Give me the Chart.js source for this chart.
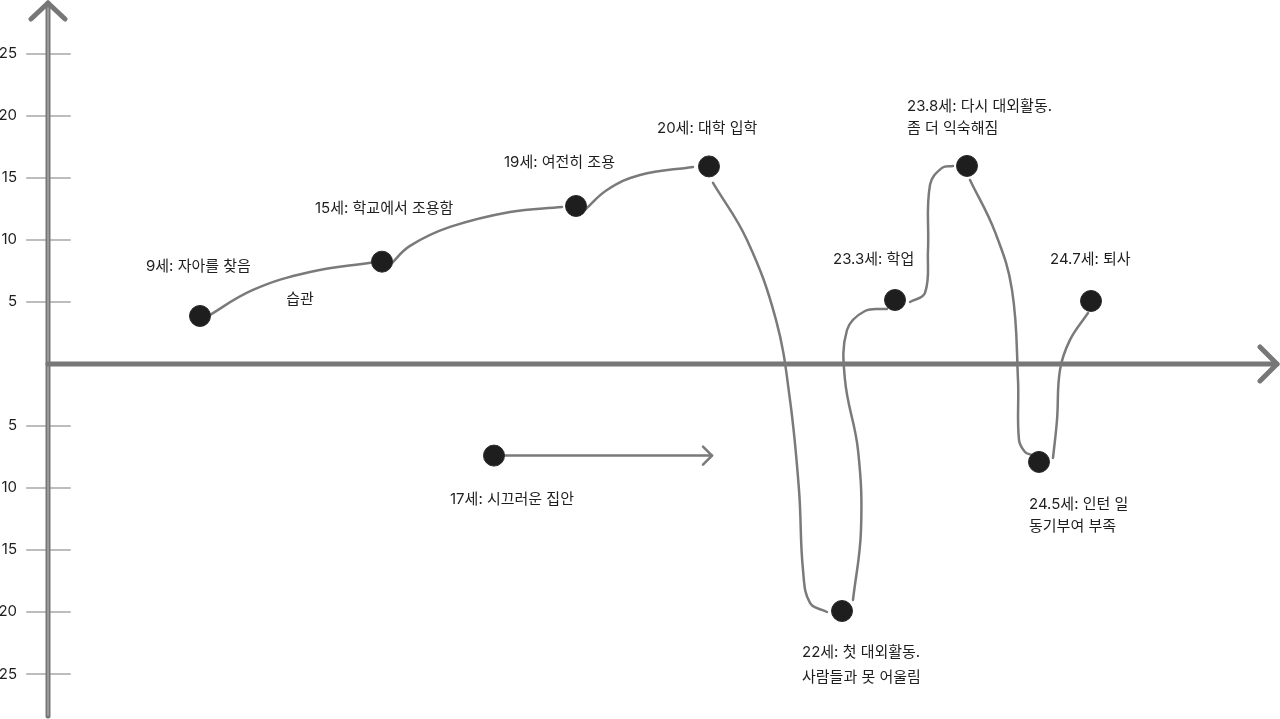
<!DOCTYPE html>
<html>
<head>
<meta charset="utf-8">
<script src="https://cdn.jsdelivr.net/npm/chart.js@4/dist/chart.umd.min.js"></script>
<style>
html,body{margin:0;padding:0;background:#fff;overflow:hidden;}
canvas{display:block;}
</style>
</head>
<body>
<canvas id="c" width="1280" height="719"></canvas>
<script>
// ---- data ----
const ages = ['9세', '15세', '19세', '20세', '22세', '23.3세', '23.8세', '24.5세', '24.7세'];
const captions = [
  ['9세: 자아를 찾음'],
  ['15세: 학교에서 조용함'],
  ['19세: 여전히 조용'],
  ['20세: 대학 입학'],
  ['22세: 첫 대외활동.', '사람들과 못 어울림'],
  ['23.3세: 학업'],
  ['23.8세: 다시 대외활동.', '좀 더 익숙해짐'],
  ['24.5세: 인턴 일', '동기부여 부족'],
  ['24.7세: 퇴사']
];
const pointX = [15.2, 33.4, 52.8, 66.1, 79.4, 84.7, 91.9, 99.1, 104.3];
const pointY = [3.87, 8.25, 12.74, 15.93, -19.92, 5.16, 15.97, -7.9, 5.08];

// hand-drawn connecting curves, one per consecutive pair of points
const curveX = [
  [15.7, 20.5, 26.2, 32.4],
  [34.2, 36.2, 40.2, 46.2, 51.4],
  [53.7, 55.9, 59.2, 64.5],
  [66.5, 69.9, 72.8, 74.2, 75.1, 75.5, 76.2, 77.9],
  [80.5, 81.3, 81.0, 79.7, 79.9, 81.7, 83.9],
  [86.2, 87.7, 88.0, 88.2, 89.4, 90.5],
  [92.2, 94.7, 96.4, 97.0, 97.1, 97.7, 98.4],
  [100.5, 100.9, 101.2, 102.2, 104.0]
];
const curveY = [
  [3.71, 5.97, 7.42, 8.19],
  [7.98, 9.52, 11.05, 12.26, 12.66],
  [12.42, 14.03, 15.24, 15.89],
  [14.6, 10.0, 3.55, -2.9, -10.16, -16.61, -19.27, -20.0],
  [-19.03, -13.39, -6.94, -1.29, 2.74, 4.27, 4.44],
  [5.0, 5.73, 9.19, 14.44, 15.81, 15.97],
  [14.84, 10.65, 5.97, -1.29, -6.13, -7.1, -7.34],
  [-7.58, -4.52, -0.48, 1.94, 4.11]
];

// side event: 17세, with an arrow
const sideAge = '17세';
const sideCaption = ['17세: 시끄러운 집안'];
const sideX = 44.6;
const sideY = -7.39;
const sideArrowToX = 66.4;

// free note
const noteText = '습관';
const noteX = 25.2;
const noteY = 5.16;

// axis ticks
const yTicks = [25, 20, 15, 10, 5, -5, -10, -15, -20, -25];

// ---- styles (pixel offsets for captions, relative to their point) ----
const captionOffsets = [
  [-54, -49, 0], [-67, -53, 0], [-72, -43, 0], [-52, -38, 0],
  [-40, 41, 25], [-62, -40, 0], [-60, -59, 22], [-10, 43, 22], [-41, -41, 0]
];
const sideCaptionOffset = [-44, 44];

const FONT = '15px Inter, "Noto Sans CJK KR", "Noto Sans", sans-serif';
const TEXT = '#1e1e1e';
const AXIS = '#777777';
const LINE = '#7a7a7a';

const pts = pointX.map((x, i) => ({x, y: pointY[i]}));

const overlay = {
  id: 'overlay',
  beforeDatasetsDraw(chart) {
    const ctx = chart.ctx;
    const xs = chart.scales.x, ys = chart.scales.y;
    const ox = xs.getPixelForValue(0), oy = ys.getPixelForValue(0);
    ctx.save();
    ctx.lineCap = 'round';
    ctx.lineJoin = 'round';
    // tick marks
    ctx.strokeStyle = '#bdbdbd';
    ctx.lineWidth = 2;
    yTicks.forEach(v => {
      const py = ys.getPixelForValue(v);
      ctx.beginPath();
      ctx.moveTo(ox - 21, py);
      ctx.lineTo(ox + 22, py);
      ctx.stroke();
    });
    // y axis
    ctx.strokeStyle = AXIS;
    ctx.lineWidth = 5;
    ctx.beginPath();
    ctx.moveTo(ox, chart.height - 3);
    ctx.lineTo(ox, 3);
    ctx.stroke();
    ctx.beginPath();
    ctx.moveTo(ox - 17, 19);
    ctx.lineTo(ox, 3);
    ctx.lineTo(ox + 17, 19);
    ctx.stroke();
    ctx.strokeStyle = '#adadad';
    ctx.lineWidth = 1.3;
    ctx.beginPath();
    ctx.moveTo(ox, chart.height - 4);
    ctx.lineTo(ox, 8);
    ctx.stroke();
    // x axis
    ctx.strokeStyle = AXIS;
    ctx.lineWidth = 5;
    ctx.beginPath();
    ctx.moveTo(ox, oy);
    ctx.lineTo(chart.width - 3, oy);
    ctx.stroke();
    ctx.beginPath();
    ctx.moveTo(chart.width - 20, oy - 17);
    ctx.lineTo(chart.width - 3, oy);
    ctx.lineTo(chart.width - 20, oy + 17);
    ctx.stroke();
    // tick labels
    ctx.fillStyle = TEXT;
    ctx.font = FONT;
    ctx.textAlign = 'right';
    ctx.textBaseline = 'middle';
    yTicks.forEach(v => {
      ctx.fillText(String(Math.abs(v)), ox - 31, ys.getPixelForValue(v));
    });
    // side arrow
    const sx = xs.getPixelForValue(sideX), sy = ys.getPixelForValue(sideY);
    const ex = xs.getPixelForValue(sideArrowToX);
    ctx.strokeStyle = LINE;
    ctx.lineWidth = 2.5;
    ctx.beginPath();
    ctx.moveTo(sx, sy);
    ctx.lineTo(ex, sy);
    ctx.stroke();
    ctx.beginPath();
    ctx.moveTo(ex - 9, sy - 9);
    ctx.lineTo(ex, sy);
    ctx.lineTo(ex - 9, sy + 9);
    ctx.stroke();
    ctx.restore();
  },
  afterDraw(chart) {
    const ctx = chart.ctx;
    const xs = chart.scales.x, ys = chart.scales.y;
    ctx.save();
    ctx.fillStyle = TEXT;
    ctx.font = FONT;
    ctx.textAlign = 'left';
    ctx.textBaseline = 'middle';
    captions.forEach((lines, i) => {
      const px = xs.getPixelForValue(pointX[i]), py = ys.getPixelForValue(pointY[i]);
      const [dx, dy, lh] = captionOffsets[i];
      lines.forEach((t, j) => ctx.fillText(t, px + dx, py + dy + j * lh));
    });
    const sx = xs.getPixelForValue(sideX), sy = ys.getPixelForValue(sideY);
    sideCaption.forEach((t, j) => ctx.fillText(t, sx + sideCaptionOffset[0], sy + sideCaptionOffset[1] + j * 22));
    ctx.textAlign = 'center';
    ctx.fillText(noteText, xs.getPixelForValue(noteX), ys.getPixelForValue(noteY));
    ctx.restore();
  }
};

const curveSets = curveX.map((xsArr, k) => ({
  label: ages[k] + ' → ' + ages[k + 1],
  data: xsArr.map((x, i) => ({x, y: curveY[k][i]})),
  borderColor: LINE,
  borderWidth: 2.5,
  borderCapStyle: 'round',
  tension: 0.4,
  pointRadius: 0,
  fill: false,
  order: 1
}));

new Chart(document.getElementById('c'), {
  type: 'line',
  data: {
    datasets: [
      {
        label: 'points',
        data: pts,
        showLine: false,
        pointRadius: 10.5,
        pointBackgroundColor: '#1e1e1e',
        pointBorderColor: '#2a2a2a',
        pointBorderWidth: 1,
        order: 0
      },
      {
        label: sideAge,
        data: [{x: sideX, y: sideY}],
        showLine: false,
        pointRadius: 10.5,
        pointBackgroundColor: '#1e1e1e',
        pointBorderColor: '#2a2a2a',
        pointBorderWidth: 1,
        order: 0
      },
      ...curveSets
    ]
  },
  options: {
    responsive: false,
    animation: false,
    devicePixelRatio: 1,
    layout: {padding: 0, autoPadding: false},
    plugins: {legend: {display: false}, tooltip: {enabled: false}},
    scales: {
      x: {type: 'linear', min: -4.8, max: 123.2, display: false},
      y: {type: 'linear', min: -28.63, max: 29.35, display: false}
    }
  },
  plugins: [overlay]
});
</script>
</body>
</html>
